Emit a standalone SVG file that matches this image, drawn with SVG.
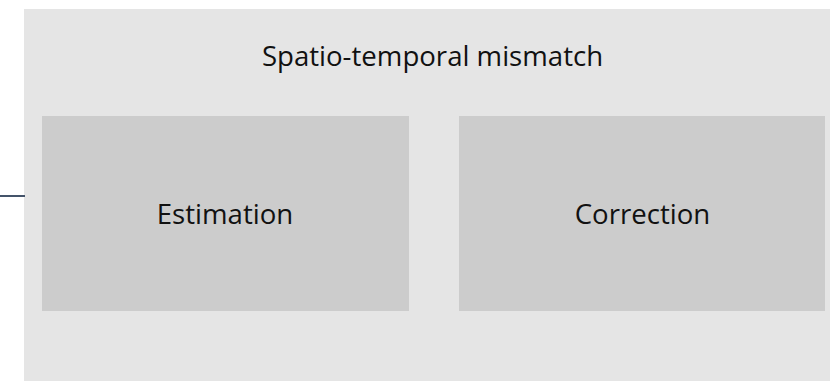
<svg xmlns="http://www.w3.org/2000/svg" width="830" height="381" viewBox="0 0 830 381">
  <style>
    .frame { fill: #e5e5e5; }
    .box { fill: #cccccc; }
    .label { font-family: "Open Sans", "Liberation Sans", sans-serif; font-size: 27.6px; fill: #111111; text-anchor: middle; }
    .link { stroke: #44546a; stroke-width: 2; fill: none; }
  </style>
  <g id="mismatch">
    <rect class="frame" x="24" y="9" width="820" height="372"/>
    <text class="label" x="432.5" y="66">Spatio-temporal mismatch</text>
  </g>
  <g id="estimation">
    <rect class="box" x="42" y="116" width="367" height="195"/>
    <text class="label" x="225" y="224">Estimation</text>
  </g>
  <g id="correction">
    <rect class="box" x="459" y="116" width="366" height="195"/>
    <text class="label" x="642.5" y="224">Correction</text>
  </g>
  <g id="connectors">
    <line class="link" x1="0" y1="196" x2="25" y2="196"/>
  </g>
</svg>
